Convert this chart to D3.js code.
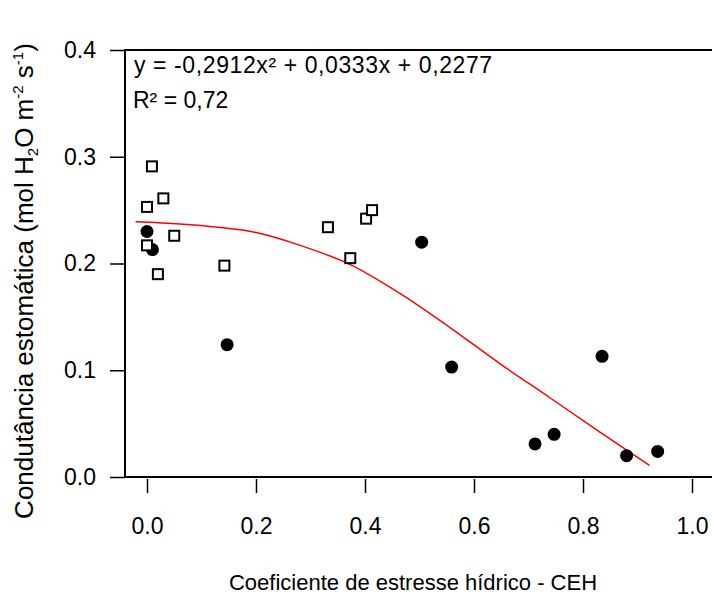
<!DOCTYPE html>
<html>
<head>
<meta charset="utf-8">
<script src="https://cdn.jsdelivr.net/npm/d3@7"></script>
<style>
  html, body { margin: 0; padding: 0; background: #fff; }
  svg { display: block; }
  text { font-family: "Liberation Sans", Arial, sans-serif; fill: #000; }
</style>
</head>
<body>
<svg id="chart" width="712" height="600"></svg>
<script>
// Open squares series (CEH, stomatal conductance)
const squareX = [0.009, 0.030, 0.000, 0.000, 0.050, 0.020, 0.142, 0.332, 0.373, 0.402, 0.413];
const squareY = [0.291, 0.261, 0.253, 0.217, 0.226, 0.190, 0.198, 0.234, 0.205, 0.242, 0.250];
// Filled circles series
const circleX = [0.000, 0.010, 0.147, 0.504, 0.559, 0.712, 0.747, 0.835, 0.880, 0.937];
const circleY = [0.230, 0.213, 0.124, 0.220, 0.103, 0.031, 0.040, 0.113, 0.020, 0.024];
// Fitted curve as drawn
const curveX = [-0.021, 0.060, 0.130, 0.200, 0.281, 0.373, 0.464, 0.556, 0.648, 0.740, 0.831, 0.922];
const curveY = [0.239, 0.237, 0.234, 0.229, 0.217, 0.199, 0.172, 0.140, 0.106, 0.074, 0.042, 0.011];
// Ticks
const xTicks = [0, 0.2, 0.4, 0.6, 0.8, 1.0];
const yTicks = [0, 0.1, 0.2, 0.3, 0.4];

const svg = d3.select("#chart");
const x = d3.scaleLinear().domain([0, 1]).range([147, 692]);
const y = d3.scaleLinear().domain([0, 0.4]).range([477, 50]);
const boxLeft = 125, boxRight = 712;

// Axes
const yAxis = d3.axisLeft(y).tickValues(yTicks).tickSize(15).tickPadding(14)
  .tickFormat(d3.format(".1f"));
const gy = svg.append("g").attr("transform", `translate(${boxLeft},0)`).call(yAxis);
gy.select(".domain").remove();
gy.selectAll(".tick line").attr("stroke", "#000").attr("stroke-width", 1.5);
gy.selectAll(".tick text").attr("font-size", 23).attr("font-family", "Liberation Sans, Arial, sans-serif").attr("fill", "#000");

const xAxis = d3.axisBottom(x).tickValues(xTicks).tickSize(14).tickPadding(25)
  .tickFormat(d3.format(".1f"));
const gx = svg.append("g").attr("transform", `translate(0,479)`).call(xAxis);
gx.select(".domain").remove();
gx.selectAll(".tick line").attr("stroke", "#000").attr("stroke-width", 1.5);
gx.selectAll(".tick text").attr("font-size", 23).attr("font-family", "Liberation Sans, Arial, sans-serif").attr("fill", "#000");

// Box (left, top, bottom; right edge is outside the picture)
svg.append("path")
  .attr("d", `M${boxRight},${y(0.4)}H${boxLeft}V${y(0)}H${boxRight}`)
  .attr("fill", "none").attr("stroke", "#000").attr("stroke-width", 2);

// Fitted curve
const curveData = curveX.map((d, i) => [d, curveY[i]]);
svg.append("path")
  .datum(curveData)
  .attr("d", d3.line().x(d => x(d[0])).y(d => y(d[1])).curve(d3.curveCatmullRom.alpha(0.5)))
  .attr("fill", "none").attr("stroke", "#ff0000").attr("stroke-width", 1.5);

// Circles
svg.append("g").selectAll("circle")
  .data(circleX.map((d, i) => [d, circleY[i]]))
  .join("circle")
  .attr("cx", d => x(d[0])).attr("cy", d => y(d[1])).attr("r", 6.5)
  .attr("fill", "#000");

// Squares
svg.append("g").selectAll("rect")
  .data(squareX.map((d, i) => [d, squareY[i]]))
  .join("rect")
  .attr("x", d => x(d[0]) - 5).attr("y", d => y(d[1]) - 5)
  .attr("width", 10).attr("height", 10)
  .attr("fill", "#fff").attr("stroke", "#000").attr("stroke-width", 2);

// Equation
svg.append("text").attr("x", 134).attr("y", 73).attr("font-size", 23)
  .attr("letter-spacing", 0.6)
  .text("y = -0,2912x² + 0,0333x + 0,2277");
svg.append("text").attr("x", 133).attr("y", 108).attr("font-size", 23).text("R² = 0,72");

// X axis title
svg.append("text").attr("x", 413).attr("y", 590).attr("text-anchor", "middle")
  .attr("font-size", 22).text("Coeficiente de estresse hídrico - CEH");

// Y axis title
const yt = svg.append("text")
  .attr("transform", "translate(33,281) rotate(-90)")
  .attr("text-anchor", "middle").attr("font-size", 26);
yt.append("tspan").text("Condutância estomática (mol H");
yt.append("tspan").attr("font-size", 15).attr("dy", 5).text("2");
yt.append("tspan").attr("dy", -5).text("O  m");
yt.append("tspan").attr("font-size", 15).attr("dy", -10).text("-2");
yt.append("tspan").attr("dy", 10).text(" s");
yt.append("tspan").attr("font-size", 15).attr("dy", -10).text("-1");
yt.append("tspan").attr("dy", 10).text(")");
</script>
</body>
</html>
